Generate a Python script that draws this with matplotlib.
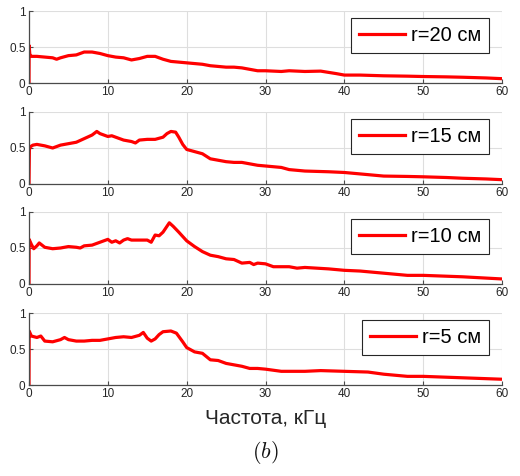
import matplotlib
matplotlib.use("Agg")
import matplotlib.pyplot as plt

plt.rcParams['font.family'] = ['Liberation Sans', 'DejaVu Sans']
plt.rcParams['mathtext.fontset'] = 'cm'

# ---- data ----
labels = ["r=20 см", "r=15 см", "r=10 см", "r=5 см"]

freq_r20 = [0, 0.02, 0.1, 0.3, 1, 2, 3, 3.5, 4, 5, 6, 7, 8, 9, 10, 11, 12, 13, 14, 15, 16,
            17, 18, 19, 20, 21, 22, 23, 24, 25, 26, 27, 28, 29, 30, 32, 33, 35, 37, 39,
            40, 42, 45, 48, 50, 53, 55, 58, 60]
amp_r20 = [0, 0.52, 0.40, 0.37, 0.37, 0.36, 0.35, 0.33, 0.35, 0.38, 0.39, 0.43, 0.43, 0.41,
           0.38, 0.36, 0.35, 0.32, 0.34, 0.37, 0.37, 0.33, 0.30, 0.29, 0.28, 0.27, 0.26,
           0.24, 0.23, 0.22, 0.22, 0.21, 0.19, 0.17, 0.17, 0.16, 0.17, 0.16, 0.165, 0.13,
           0.11, 0.11, 0.10, 0.095, 0.09, 0.085, 0.08, 0.07, 0.06]

freq_r15 = [0, 0.05, 0.2, 0.5, 1, 2, 3, 4, 5, 6, 7, 8, 8.6, 9, 10, 10.5, 11, 12, 13, 13.5,
            14, 15, 16, 17, 17.5, 18, 18.6, 19, 19.5, 20, 21, 22, 23, 24, 25, 26, 27, 28,
            29, 30, 31, 32, 33, 35, 38, 40, 42, 45, 48, 50, 53, 55, 58, 60]
amp_r15 = [0, 0.48, 0.52, 0.54, 0.55, 0.53, 0.50, 0.54, 0.56, 0.58, 0.63, 0.68, 0.73, 0.70,
           0.66, 0.67, 0.65, 0.61, 0.59, 0.57, 0.61, 0.62, 0.62, 0.65, 0.70, 0.73, 0.72,
           0.65, 0.55, 0.48, 0.45, 0.42, 0.35, 0.33, 0.31, 0.30, 0.30, 0.28, 0.26, 0.25,
           0.24, 0.23, 0.20, 0.18, 0.17, 0.16, 0.14, 0.11, 0.105, 0.10, 0.09, 0.08, 0.07,
           0.06]

freq_r10 = [0, 0.02, 0.3, 0.6, 1, 1.3, 2, 3, 4, 5, 6, 6.5, 7, 8, 9, 10, 10.5, 11, 11.5, 12,
            12.5, 13, 14, 15, 15.5, 16, 16.5, 17, 17.8, 18.3, 19, 20, 21, 22, 23, 24, 25,
            26, 27, 28, 28.5, 29, 30, 31, 33, 34, 35, 38, 40, 42, 45, 48, 50, 55, 60]
amp_r10 = [0, 0.62, 0.55, 0.49, 0.53, 0.57, 0.51, 0.49, 0.50, 0.52, 0.51, 0.50, 0.53, 0.54,
           0.58, 0.62, 0.58, 0.60, 0.57, 0.61, 0.63, 0.61, 0.61, 0.61, 0.58, 0.68, 0.67,
           0.72, 0.85, 0.80, 0.72, 0.60, 0.52, 0.45, 0.40, 0.38, 0.35, 0.34, 0.29, 0.30,
           0.27, 0.29, 0.28, 0.24, 0.24, 0.22, 0.23, 0.21, 0.19, 0.18, 0.15, 0.12, 0.12,
           0.10, 0.07]

freq_r5 = [0, 0.02, 0.3, 1, 1.5, 2, 3, 4, 4.5, 5, 6, 7, 8, 9, 10, 11, 12, 13, 14, 14.5, 15,
           15.5, 16, 16.5, 17, 18, 18.7, 19.5, 20, 21, 22, 23, 24, 25, 26, 27, 28, 29, 30,
           32, 35, 37, 40, 43, 45, 48, 50, 55, 60]
amp_r5 = [0, 0.75, 0.68, 0.66, 0.68, 0.61, 0.60, 0.63, 0.66, 0.63, 0.61, 0.61, 0.62, 0.62,
          0.64, 0.66, 0.67, 0.66, 0.69, 0.73, 0.65, 0.61, 0.64, 0.70, 0.74, 0.75, 0.72,
          0.60, 0.52, 0.46, 0.44, 0.35, 0.34, 0.30, 0.28, 0.26, 0.23, 0.23, 0.22, 0.19,
          0.19, 0.20, 0.19, 0.18, 0.15, 0.12, 0.12, 0.10, 0.08]

series = [(freq_r20, amp_r20), (freq_r15, amp_r15), (freq_r10, amp_r10), (freq_r5, amp_r5)]

xticks = [0, 10, 20, 30, 40, 50, 60]
yticks = [0, 0.5, 1]
ytick_labels = ["0", "0.5", "1"]

xlabel = "Частота, кГц"
caption = "$(b)$"

# ---- figure ----
W, H = 520, 476
fig = plt.figure(figsize=(W / 100, H / 100), dpi=100)

left_px, right_px = 29, 502
bottoms_px = [83, 184, 284, 385]
height_px = 72

axis_col = '#4a4a4a'
text_col = '#262626'
for (fx, fy), lab, bpx in zip(series, labels, bottoms_px):
    ax = fig.add_axes([left_px / W, 1 - bpx / H, (right_px - left_px) / W, height_px / H])
    ax.plot(fx, fy, color='#ff0000', lw=2.3, label=lab, solid_joinstyle='round')
    ax.set_xlim(0, 60)
    ax.set_ylim(0, 1)
    ax.set_xticks(xticks)
    ax.set_yticks(yticks)
    ax.set_yticklabels(ytick_labels)
    ax.grid(True, color='#dedede', lw=0.8)
    ax.set_axisbelow(True)
    for s in ['top', 'right']:
        ax.spines[s].set_visible(False)
    for s in ['left', 'bottom']:
        ax.spines[s].set_color(axis_col)
        ax.spines[s].set_linewidth(0.9)
    ax.tick_params(direction='in', length=3, width=0.8, colors=axis_col,
                   labelcolor=text_col, labelsize=8.5, pad=2.5)
    leg = ax.legend(loc='upper right', fontsize=14.5, frameon=True, fancybox=False,
                    handlelength=2.3, handletextpad=0.3, borderpad=0.38,
                    borderaxespad=0.4, bbox_to_anchor=(0.99, 1.01))
    leg.get_frame().set_edgecolor('#262626')
    leg.get_frame().set_linewidth(0.8)
    leg.get_frame().set_alpha(1)

fig.text((left_px + right_px) / 2 / W, 1 - 418 / H, xlabel, ha='center', va='center',
         fontsize=15, color=text_col)
fig.text(265 / W, 1 - 452 / H, caption, ha='center', va='center', fontsize=16,
         color='#111111')

fig.savefig('out.png', dpi=100)
